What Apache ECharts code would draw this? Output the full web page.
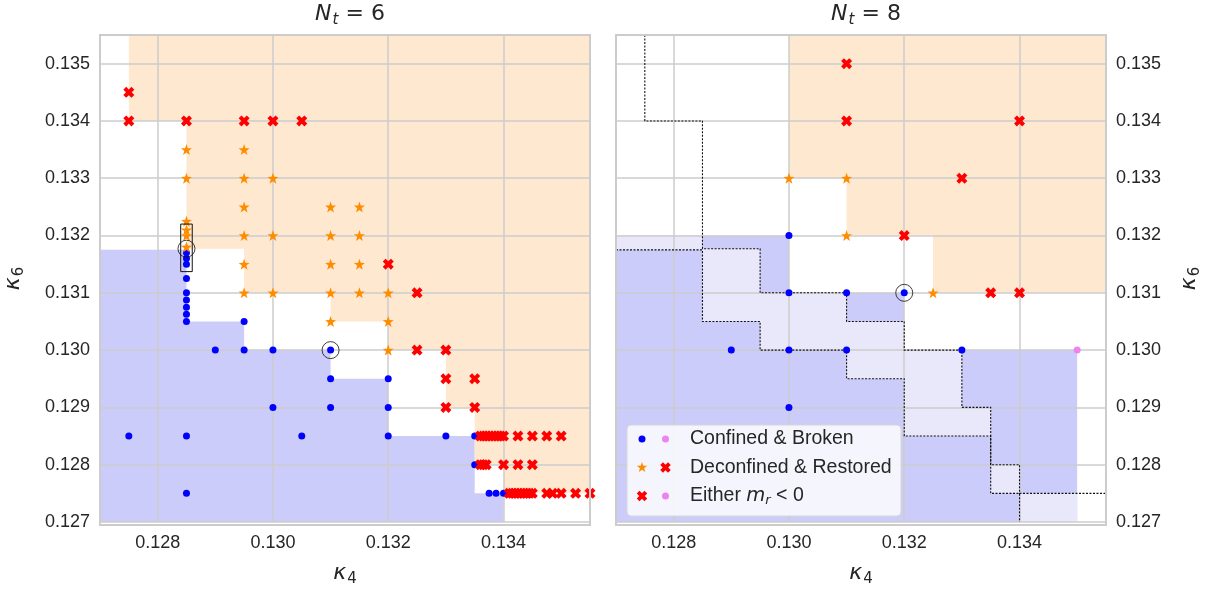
<!DOCTYPE html>
<html>
<head>
<meta charset="utf-8">
<script src="https://cdn.jsdelivr.net/npm/echarts@6.0.0/dist/echarts.min.js"></script>
<style>
html,body{margin:0;padding:0;background:#ffffff;}
#chart{width:1213px;height:592px;}
</style>
</head>
<body>
<div id="chart"></div>
<script>
// ---------------- axes / labels ----------------
const xRange = [0.127, 0.1355];
const yRange = [0.127, 0.1355];
const xTicks = [0.128, 0.130, 0.132, 0.134];
const yTicks = [0.127, 0.128, 0.129, 0.130, 0.131, 0.132, 0.133, 0.134, 0.135];
const panelNt = ['6', '8'];
const legendLabels = ['Confined & Broken', 'Deconfined & Restored', 'Either '];

// ---------------- N_t = 6 points ----------------
const confined6 = [
  [0.1275,0.1285],[0.1285,0.1285],[0.1285,0.1275],
  [0.1285,0.1305],[0.1285,0.130625],[0.1285,0.13075],[0.1285,0.130875],[0.1285,0.131],
  [0.1285,0.13125],[0.1285,0.1315],[0.1285,0.1316],[0.1285,0.1317],
  [0.1295,0.1305],[0.129,0.130],[0.1295,0.130],[0.130,0.130],[0.130,0.129],
  [0.131,0.130],[0.131,0.1295],[0.132,0.1295],[0.131,0.129],[0.132,0.129],
  [0.1305,0.1285],[0.132,0.1285],[0.133,0.1285],[0.1335,0.1285],[0.1335,0.128],
  [0.13375,0.1275],[0.13387,0.1275],[0.134,0.1275]
];
const deconfined6 = [
  [0.1285,0.1335],[0.1285,0.133],[0.1285,0.13225],[0.1285,0.1321],[0.1285,0.132],[0.1285,0.1318],
  [0.1295,0.1335],[0.1295,0.133],[0.1295,0.1325],[0.1295,0.132],[0.1295,0.1315],[0.1295,0.131],
  [0.130,0.133],[0.130,0.132],[0.130,0.131],
  [0.131,0.1325],[0.131,0.132],[0.131,0.1315],[0.131,0.131],[0.131,0.1305],
  [0.1315,0.1325],[0.1315,0.132],[0.1315,0.1315],[0.1315,0.131],
  [0.132,0.131],[0.132,0.1305],[0.132,0.130]
];
const negative6 = [
  [0.1275,0.1345],[0.1275,0.134],[0.1285,0.134],[0.1295,0.134],[0.130,0.134],[0.1305,0.134],
  [0.132,0.1315],[0.1325,0.131],[0.1325,0.130],[0.133,0.130],[0.133,0.1295],[0.1335,0.1295],
  [0.133,0.129],[0.1335,0.129],
  [0.1336,0.1285],[0.13365,0.1285],[0.1337,0.1285],[0.13375,0.1285],[0.1338,0.1285],
  [0.13385,0.1285],[0.1339,0.1285],[0.13395,0.1285],[0.134,0.1285],
  [0.13425,0.1285],[0.1345,0.1285],[0.13475,0.1285],[0.135,0.1285],
  [0.1336,0.128],[0.13365,0.128],[0.1337,0.128],[0.134,0.128],[0.13425,0.128],[0.1345,0.128],
  [0.1341,0.1275],[0.13415,0.1275],[0.1342,0.1275],[0.13425,0.1275],[0.1343,0.1275],
  [0.13435,0.1275],[0.1344,0.1275],[0.13445,0.1275],[0.1345,0.1275],
  [0.13475,0.1275],[0.13485,0.1275],[0.135,0.1275],[0.13525,0.1275],[0.1355,0.1275]
];
const circled6 = [[0.1285,0.13177],[0.131,0.130]];
const boxed6 = [[0.1284,0.13137],[0.1286,0.1322]];

// ---------------- N_t = 8 points ----------------
const confined8 = [
  [0.130,0.132],[0.130,0.131],[0.131,0.131],[0.132,0.131],
  [0.129,0.130],[0.130,0.130],[0.131,0.130],[0.133,0.130],[0.130,0.129]
];
const deconfined8 = [[0.130,0.133],[0.131,0.133],[0.131,0.132],[0.1325,0.131]];
const negative8 = [
  [0.131,0.135],[0.131,0.134],[0.134,0.134],[0.133,0.133],[0.132,0.132],[0.1335,0.131],[0.134,0.131]
];
const negConfined8 = [[0.135,0.130]];
const circled8 = [[0.132,0.131]];

// ---------------- phase boundaries (data coords) ----------------
const confinedEdge6 = [
  [0.127,0.13175],[0.1285,0.13175],[0.1285,0.1305],[0.1295,0.1305],[0.1295,0.130],
  [0.131,0.130],[0.131,0.1295],[0.132,0.1295],[0.132,0.1285],[0.1335,0.1285],
  [0.1335,0.1275],[0.134,0.1275],[0.134,0.127]
];
const deconfinedEdge6 = [
  [0.1275,0.1355],[0.1275,0.134],[0.1285,0.134],[0.1285,0.13177],[0.1295,0.13177],
  [0.1295,0.131],[0.131,0.131],[0.131,0.1305],[0.132,0.1305],[0.132,0.130],[0.133,0.130],
  [0.133,0.129],[0.1335,0.129],[0.1335,0.128],[0.134,0.128],[0.134,0.1275],[0.1355,0.1275]
];
const confinedRegion6 = [[0.127,0.127]].concat(confinedEdge6);
const deconfinedRegion6 = deconfinedEdge6.concat([[0.1355,0.1355]]);
const confinedRegion8 = [
  [0.127,0.127],[0.127,0.132],[0.130,0.132],[0.130,0.131],[0.132,0.131],
  [0.132,0.130],[0.135,0.130],[0.135,0.127]
];
const deconfinedRegion8 = [
  [0.130,0.1355],[0.130,0.133],[0.131,0.133],[0.131,0.132],[0.1325,0.132],
  [0.1325,0.131],[0.1355,0.131],[0.1355,0.1355]
];
const shiftedRegion8 = [
  [0.127,0.132],[0.1285,0.132],[0.1285,0.13177],[0.1295,0.13177],[0.1295,0.131],
  [0.131,0.131],[0.131,0.1305],[0.132,0.1305],[0.132,0.130],[0.133,0.130],[0.133,0.129],
  [0.1335,0.129],[0.1335,0.128],[0.134,0.128],[0.134,0.1275],[0.135,0.1275],[0.135,0.127],
  [0.134,0.127],[0.134,0.1275],[0.1335,0.1275],[0.1335,0.1285],[0.132,0.1285],[0.132,0.1295],
  [0.131,0.1295],[0.131,0.130],[0.1295,0.130],[0.1295,0.1305],[0.1285,0.1305],
  [0.1285,0.13175],[0.127,0.13175]
];

// ---------------- styling ----------------
const FONT = '"Liberation Sans", Arial, sans-serif';
const MATH = '"DejaVu Sans", sans-serif';
const TXT = '#262626';
const GRIDC = '#cccccc';
const C_BLUE = '#0000ff', C_ORANGE = '#ff8c00', C_RED = '#ff0000', C_VIOLET = '#ee82ee';
const F_BLUE = '#ccccfa', F_LIGHT = '#e8e8fa', F_ORANGE = '#fee8cf';

function starPath() {
  let s = 'path://';
  for (let i = 0; i < 10; i++) {
    const r = i % 2 ? 0.4 : 1;
    const a = -Math.PI / 2 + i * Math.PI / 5;
    s += (i ? 'L' : 'M') + (r * Math.cos(a)).toFixed(4) + ',' + (r * Math.sin(a)).toFixed(4);
  }
  return s + 'Z';
}
const STAR = starPath();
const XBASE = [[0,2.6],[2.6,0],[5,2.4],[7.4,0],[10,2.6],[7.6,5],[10,7.4],[7.4,10],[5,7.6],[2.6,10],[0,7.4],[2.4,5]];
const XMARK = 'path://' + XBASE.map((q, k) => (k ? 'L' : 'M') + q[0] + ',' + q[1]).join('') + 'Z';

function starPts(cx, cy, R) {
  const p = [];
  for (let i = 0; i < 10; i++) {
    const r = i % 2 ? R * 0.4 : R;
    const a = -Math.PI / 2 + i * Math.PI / 5;
    p.push([cx + r * Math.cos(a), cy + r * Math.sin(a)]);
  }
  return p;
}
function crossPts(cx, cy, s) {
  return XBASE.map(q => [cx + (q[0] - 5) * s / 10, cy + (q[1] - 5) * s / 10]);
}

const gridPos = [
  {left: 100, top: 35, width: 490, height: 490},
  {left: 616, top: 35, width: 490, height: 490}
];

const mathRich = {
  i: {fontFamily: MATH, fontStyle: 'italic', fontWeight: 'normal', fontSize: 22, color: TXT},
  s: {fontFamily: MATH, fontWeight: 'normal', fontSize: 15, color: TXT, padding: [12, 0, 0, 1]},
  si: {fontFamily: MATH, fontStyle: 'italic', fontWeight: 'normal', fontSize: 15, color: TXT, padding: [12, 0, 0, 1]},
  n: {fontFamily: MATH, fontWeight: 'normal', fontSize: 22, color: TXT}
};

function xAxisOpt(i) {
  return {
    gridIndex: i, type: 'value', min: xRange[0], max: xRange[1], z: 3,
    axisLine: {show: false},
    axisTick: {show: false, customValues: xTicks},
    axisLabel: {customValues: xTicks, formatter: v => v.toFixed(3), fontSize: 18,
      color: TXT, fontFamily: FONT, margin: 12},
    splitLine: {show: true, lineStyle: {color: GRIDC, width: 1.5}},
    name: '{i|κ}{s|4}', nameLocation: 'middle', nameGap: 38,
    nameTextStyle: {rich: mathRich}
  };
}
function yAxisOpt(i) {
  return {
    gridIndex: i, type: 'value', min: yRange[0], max: yRange[1], z: 3,
    position: i === 0 ? 'left' : 'right',
    axisLine: {show: false},
    axisTick: {show: false, customValues: yTicks},
    axisLabel: {customValues: yTicks, formatter: v => v.toFixed(3), fontSize: 18,
      color: TXT, fontFamily: FONT, margin: 10},
    splitLine: {show: true, lineStyle: {color: GRIDC, width: 1.5}},
    name: '{i|κ}{s|6}', nameLocation: 'middle', nameGap: i === 0 ? 73 : 70, nameRotate: 90,
    nameTextStyle: {rich: mathRich}
  };
}

function regionSeries(p, pts, color) {
  return {
    type: 'custom', xAxisIndex: p, yAxisIndex: p, z: 1, silent: true, clip: true,
    animation: false, data: [pts[0]],
    renderItem: (params, api) => ({
      type: 'polygon',
      shape: {points: pts.map(q => api.coord(q))},
      style: {fill: color, stroke: null}
    })
  };
}
function edgeSeries(p, pts) {
  return {
    type: 'custom', xAxisIndex: p, yAxisIndex: p, z: 4, silent: true, clip: true,
    animation: false, data: [pts[0]],
    renderItem: (params, api) => ({
      type: 'polyline',
      shape: {points: pts.map(q => api.coord(q))},
      style: {stroke: '#111', lineWidth: 1.1, lineDash: [2, 1.5], fill: null}
    })
  };
}
function boxSeries(p, corners) {
  return {
    type: 'custom', xAxisIndex: p, yAxisIndex: p, z: 6, silent: true, clip: false,
    animation: false, data: [corners[0]],
    renderItem: (params, api) => {
      const a = api.coord(corners[0]), b = api.coord(corners[1]);
      return {
        type: 'rect',
        shape: {x: Math.min(a[0], b[0]), y: Math.min(a[1], b[1]),
                width: Math.abs(b[0] - a[0]), height: Math.abs(b[1] - a[1])},
        style: {fill: null, stroke: '#111', lineWidth: 1}
      };
    }
  };
}
function scat(p, data, symbol, size, color, z) {
  return {type: 'scatter', xAxisIndex: p, yAxisIndex: p, data, symbol, symbolSize: size,
    itemStyle: {color, opacity: 1}, z: z || 5, silent: true, animation: false};
}
function rings(p, data) {
  return {type: 'scatter', xAxisIndex: p, yAxisIndex: p, data, symbol: 'circle', symbolSize: 17,
    itemStyle: {color: 'rgba(0,0,0,0)', borderColor: '#111', borderWidth: 1}, z: 7,
    silent: true, animation: false};
}

// legend (drawn as graphics)
const LX = 627, LY = 425;
const rowY = [439, 467.5, 496];
const legendEls = [
  {type: 'rect', shape: {x: LX, y: LY, width: 274, height: 91, r: 4},
   style: {fill: 'rgba(255,255,255,0.8)', stroke: '#d6d6d6', lineWidth: 1}, z: 100},
  {type: 'circle', shape: {cx: 642, cy: rowY[0], r: 3.5}, style: {fill: C_BLUE}, z: 101},
  {type: 'circle', shape: {cx: 665.5, cy: rowY[0], r: 3.5}, style: {fill: C_VIOLET}, z: 101},
  {type: 'polygon', shape: {points: starPts(642, rowY[1], 5.5)}, style: {fill: C_ORANGE}, z: 101},
  {type: 'polygon', shape: {points: crossPts(665.5, rowY[1], 10.5)}, style: {fill: C_RED}, z: 101},
  {type: 'polygon', shape: {points: crossPts(642, rowY[2], 10.5)}, style: {fill: C_RED}, z: 101},
  {type: 'circle', shape: {cx: 665.5, cy: rowY[2], r: 3.5}, style: {fill: C_VIOLET}, z: 101}
];
legendLabels.forEach((t, k) => {
  const isMath = k === 2;
  legendEls.push({
    type: 'text', x: 690, y: rowY[k], z: 101,
    style: isMath ? {
      text: '{a|' + t + '}{m|m}{r|r}{a| < 0}', verticalAlign: 'middle', align: 'left',
      rich: {
        a: {fontFamily: FONT, fontSize: 19.5, fill: TXT},
        m: {fontFamily: MATH, fontStyle: 'italic', fontSize: 19.5, fill: TXT},
        r: {fontFamily: MATH, fontStyle: 'italic', fontSize: 13, fill: TXT, padding: [10, 0, 0, 0]}
      }
    } : {text: t, font: '19.5px ' + FONT, fill: TXT, verticalAlign: 'middle', align: 'left'}
  });
});

const borders = gridPos.map(g => ({
  type: 'rect', shape: {x: g.left, y: g.top, width: g.width, height: g.height},
  style: {fill: null, stroke: GRIDC, lineWidth: 2}, z: 50
}));

const option = {
  backgroundColor: '#ffffff',
  animation: false,
  title: panelNt.map((n, i) => ({
    text: '{i|N}{si|t}{n| = ' + n + '}',
    left: gridPos[i].left + gridPos[i].width / 2, top: -4, textAlign: 'center',
    textStyle: {fontWeight: 'normal', rich: mathRich}
  })),
  grid: gridPos,
  xAxis: [xAxisOpt(0), xAxisOpt(1)],
  yAxis: [yAxisOpt(0), yAxisOpt(1)],
  series: [
    regionSeries(0, confinedRegion6, F_BLUE),
    regionSeries(0, deconfinedRegion6, F_ORANGE),
    regionSeries(1, confinedRegion8, F_BLUE),
    regionSeries(1, shiftedRegion8, F_LIGHT),
    regionSeries(1, deconfinedRegion8, F_ORANGE),
    edgeSeries(1, confinedEdge6),
    edgeSeries(1, deconfinedEdge6),
    scat(0, confined6, 'circle', 7, C_BLUE, 5),
    scat(0, deconfined6, STAR, 11, C_ORANGE, 5),
    scat(0, negative6, XMARK, 11, C_RED, 5),
    scat(1, confined8, 'circle', 7, C_BLUE, 5),
    scat(1, deconfined8, STAR, 11, C_ORANGE, 5),
    scat(1, negative8, XMARK, 11, C_RED, 5),
    scat(1, negConfined8, 'circle', 7, C_VIOLET, 5),
    rings(0, circled6),
    rings(1, circled8),
    boxSeries(0, boxed6)
  ],
  graphic: borders.concat(legendEls)
};

const chart = echarts.init(document.getElementById('chart'), null, {renderer: 'canvas'});
chart.setOption(option);
</script>
</body>
</html>
